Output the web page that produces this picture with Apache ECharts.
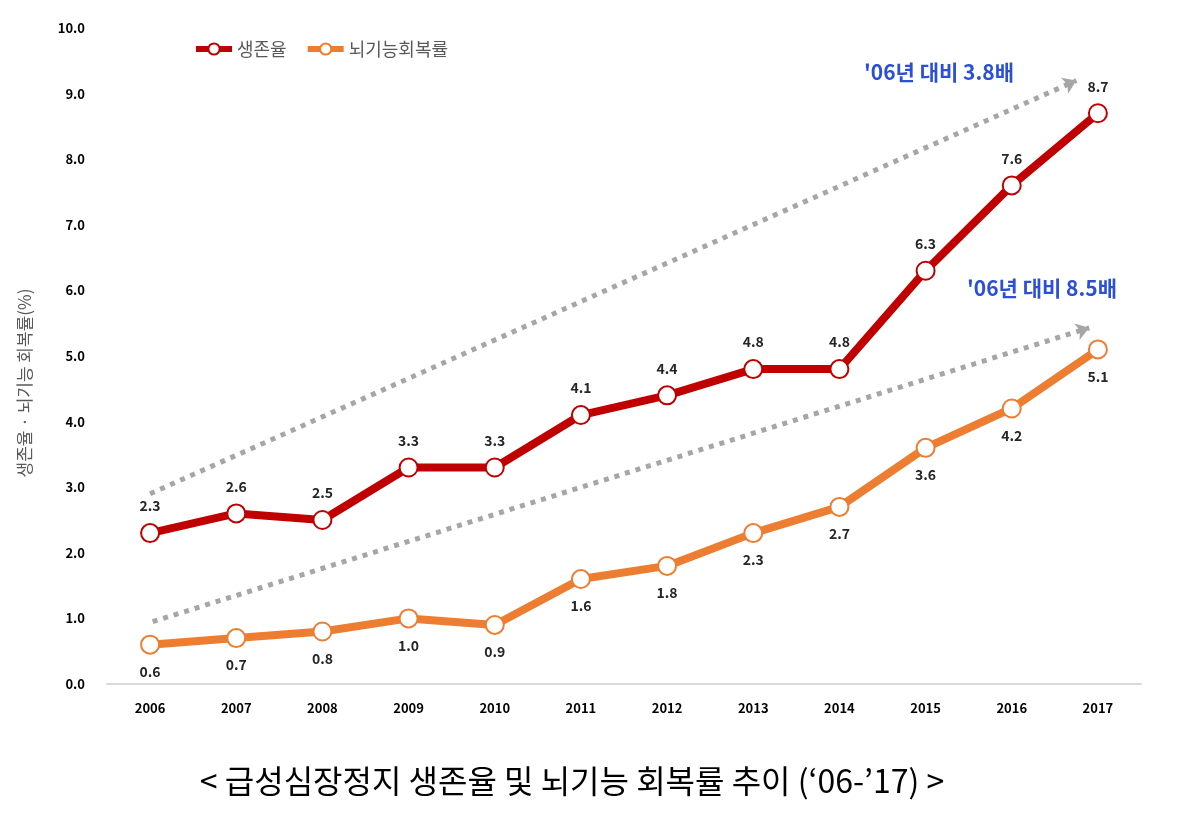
<!DOCTYPE html>
<html>
	<head>
		<meta charset="utf-8">
		<title>chart</title>
		<script src="https://cdn.jsdelivr.net/npm/echarts@6/dist/echarts.min.js"></script>
		<style>
			html,body{margin:0;padding:0;background:#fff;}
			#x{width:1190px;height:818px;}
		</style>
	</head>
	<body>
		<div id="x"></div>
	</body>

	<script type="text/javascript">
		// 급성심장정지 생존율 / 뇌기능 회복률
		var years=['2006','2007','2008','2009','2010','2011','2012','2013','2014','2015','2016','2017'];
		var survival=[2.3,2.6,2.5,3.3,3.3,4.1,4.4,4.8,4.8,6.3,7.6,8.7];
		var recovery=[0.6,0.7,0.8,1.0,0.9,1.6,1.8,2.3,2.7,3.6,4.2,5.1];
		// 추세 화살표 (x: 연도 순번, y: %)
		var arrowSurvival=[[0,2.9],[10.75,9.2]];
		var arrowRecovery=[[0.03,0.95],[10.9,5.43]];
		var noteSurvival="'06년 대비 3.8배";
		var noteRecovery="'06년 대비 8.5배";
		var yName='생존율 · 뇌기능 회복률(%)';
		var caption="< 급성심장정지 생존율 및 뇌기능 회복률 추이 (‘06-’17) >";

		var font='"Noto Sans CJK KR", "Noto Sans", sans-serif';
		var red='#c00000', orange='#ed7d31', grey='#a6a6a6';

		function arrow(pts){
			return {
				type:'line',
				xAxisIndex:1,
				data:[],
				silent:true,
				markLine:{
					silent:true,
					symbol:['none','arrow'],
					symbolSize:[13,13],
					label:{show:false},
					lineStyle:{color:grey,width:5,type:[5,6]},
					data:[[{coord:pts[0]},{coord:pts[1]}]]
				}
			};
		}

		function lbl(pos){
			return {
				show:true,position:pos,distance:10,
				fontSize:14,fontWeight:'bold',color:'#262626',fontFamily:font,
				formatter:function(p){return p.value.toFixed(1);}
			};
		}

		option = {
			backgroundColor:'#fff',
			textStyle:{fontFamily:font},
			grid:{left:107,right:49,top:28,bottom:134},
			legend:{
				data:['생존율','뇌기능회복률'],
				left:188,
				top:35,
				itemWidth:36,
				itemHeight:14,
				itemGap:18,
				lineStyle:{width:6},
				itemStyle:{borderWidth:3},
				textStyle:{fontFamily:font,fontSize:18,color:'#595959'}
			},
			xAxis:[{
				type:'category',
				data:years,
				axisTick:{show:false},
				axisLine:{lineStyle:{color:'#d9d9d9',width:2}},
				axisLabel:{margin:18,fontSize:13,fontWeight:'bold',color:'#000',fontFamily:font}
			},{
				type:'value',
				min:-0.5,
				max:11.5,
				show:false
			}],
			yAxis:[{
				type:'value',
				min:0,
				max:10,
				interval:1,
				splitLine:{show:false},
				axisLine:{show:false},
				axisTick:{show:false},
				axisLabel:{
					margin:22,fontSize:13,fontWeight:'bold',color:'#000',fontFamily:font,
					formatter:function(v){return v.toFixed(1);}
				}
			}],
			series:[
				arrow(arrowSurvival),
				arrow(arrowRecovery),
				{
					name:'생존율',
					type:'line',
					data:survival,
					symbol:'emptyCircle',
					symbolSize:18,
					z:5,
					lineStyle:{color:red,width:8},
					itemStyle:{color:red,borderWidth:4},
					label:lbl('top')
				},
				{
					name:'뇌기능회복률',
					type:'line',
					data:recovery,
					symbol:'emptyCircle',
					symbolSize:18,
					z:5,
					lineStyle:{color:orange,width:8},
					itemStyle:{color:orange,borderWidth:4},
					label:lbl('bottom')
				}
			],
			graphic:[
				{type:'text',x:864,y:62,style:{text:noteSurvival,fill:'#2b4fd6',font:'bold 21px '+font}},
				{type:'text',x:967,y:278,style:{text:noteRecovery,fill:'#2b4fd6',font:'bold 21px '+font}},
				{type:'text',x:25,y:383,rotation:Math.PI/2,style:{text:yName,fill:'#595959',font:'17px '+font,align:'center',verticalAlign:'middle'}},
				{type:'text',x:572,y:781,style:{text:caption,fill:'#000',font:'32px '+font,align:'center',verticalAlign:'middle'}}
			]
		};

		var x5=chart(option,"x");

		function chart(option,id){
			var mychart=echarts.init(document.getElementById(id));
			mychart.setOption(option);
			return mychart;
		}
	</script>
</html>
